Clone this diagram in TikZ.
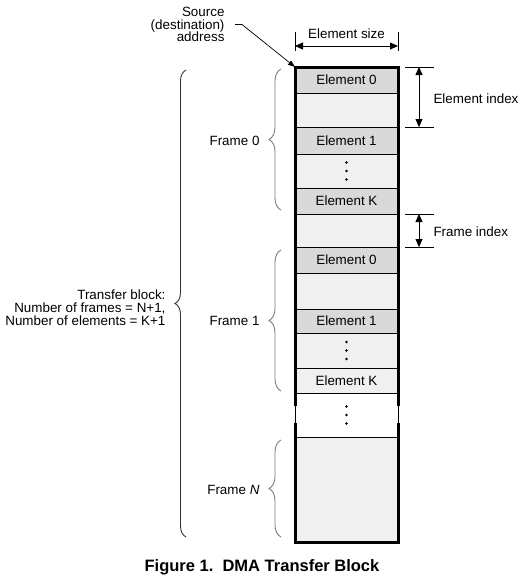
\documentclass[tikz,border=0pt]{standalone}
\usepackage{fontspec}
\setmainfont{Liberation Sans}
\usetikzlibrary{arrows.meta,decorations.pathreplacing}
\definecolor{darkcell}{RGB}{217,217,217}
\definecolor{lightcell}{RGB}{240,240,240}
\definecolor{bracegray}{RGB}{125,125,125}
\begin{document}
\begin{tikzpicture}[x=1pt, y=-1pt, font=\fontsize{13.4}{12.8}\selectfont,
  cell/.style={draw, line width=0.8pt, fill=#1, minimum width=103pt, inner sep=0pt, outer sep=0pt},
  dim/.style={line width=0.8pt},
  dimarrow/.style={line width=0.8pt, {Triangle[length=8pt,width=7pt]}-{Triangle[length=8pt,width=7pt]}},
  framebrace/.style={bracegray, line width=0.9pt, decorate, decoration={brace, amplitude=12pt}},
  blockbrace/.style={black!80, line width=0.9pt, decorate, decoration={brace, amplitude=11pt}}]
\useasboundingbox (0,0) rectangle (527,579);
% column of elements
\node[cell=darkcell, minimum height=26pt] (C_0_0) at (346.5,80) {Element 0};
\node[cell=lightcell, minimum height=34pt] (C_0_1) at (346.5,110) {};
\node[cell=darkcell, minimum height=27pt] (C_0_2) at (346.5,140.5) {Element 1};
\node[cell=lightcell, minimum height=34pt] (C_0_3) at (346.5,171) {};
\node[cell=darkcell, minimum height=26pt] (C_0_4) at (346.5,201) {Element K};
\node[cell=lightcell, minimum height=33pt] (C_0_5) at (346.5,230.5) {};
\node[cell=darkcell, minimum height=26pt] (C_1_0) at (346.5,260) {Element 0};
\node[cell=lightcell, minimum height=36pt] (C_1_1) at (346.5,291) {};
\node[cell=darkcell, minimum height=24pt] (C_1_2) at (346.5,321) {Element 1};
\node[cell=lightcell, minimum height=35pt] (C_1_3) at (346.5,350.5) {};
\node[cell=lightcell, minimum height=25pt] (C_1_4) at (346.5,380.5) {Element K};
\node[cell=white, minimum height=44pt] (C_2_0) at (346.5,415) {};
\node[cell=lightcell, minimum height=105pt] (C_N_0) at (346.5,489.5) {};
\foreach \c in {C_0_3, C_1_3, C_2_0}
  \foreach \d in {-8.5,0,8.5}
    \fill (\c.center) ++(0,\d) circle (1.4pt);
\draw[line width=3pt] (295,406) -- (C_0_0.north west) -- (C_0_0.north east) -- (398,406);
\draw[line width=3pt] (295,423) -- (C_N_0.south west) -- (C_N_0.south east) -- (398,423);
% element size
\coordinate (W_0_0) at (295,32);
\coordinate (W_0_1) at (295,51);
\coordinate (W_1_0) at (398,32);
\coordinate (W_1_1) at (398,51);
\draw[dim] (W_0_0) -- (W_0_1);
\draw[dim] (W_1_0) -- (W_1_1);
\draw[dimarrow] (295,46) -- (398,46);
\node (L_size) at (346.5,34) {Element size};
% source address
\node[anchor=east, align=right] (L_src) at (228,24.5) {Source\\(destination)\\address};
\draw[line width=0.7pt, -{Triangle[length=7pt,width=5pt]}] (L_src.east) ++(7,0) -- ++(7,0) -- (C_0_0.north west);
% element index / frame index
\coordinate (I_0) at (405,67);
\coordinate (I_1) at (405,127);
\coordinate (I_2) at (405,214);
\coordinate (I_3) at (405,247);
\foreach \i in {I_0, I_1, I_2, I_3}
  \draw[dim] (\i) -- ++(29,0);
\draw[dimarrow] (419,67) -- (419,127);
\draw[dimarrow] (419,214) -- (419,247);
\node[anchor=west] (L_eidx) at (430,99) {Element index};
\node[anchor=west] (L_fidx) at (430,232) {Frame index};
% frames
\draw[framebrace] (281,210) -- (281,69);
\draw[framebrace] (281,391) -- (281,250);
\draw[framebrace] (281,537) -- (281,440);
\node[anchor=east] (L_f0) at (263,141) {Frame 0};
\node[anchor=east] (L_f1) at (263,321) {Frame 1};
\node[anchor=east] (L_fN) at (263,490) {Frame \textit{N}};
\draw[blockbrace] (186,537) -- (186,70);
\node[anchor=east, align=right] (L_blk) at (169,308) {Transfer block:\\Number of frames = N+1,\\Number of elements = K+1};
\node (L_cap) at (262,567) {\fontsize{16.5}{18}\selectfont\bfseries Figure 1.\ \ DMA Transfer Block};
\end{tikzpicture}
\end{document}
